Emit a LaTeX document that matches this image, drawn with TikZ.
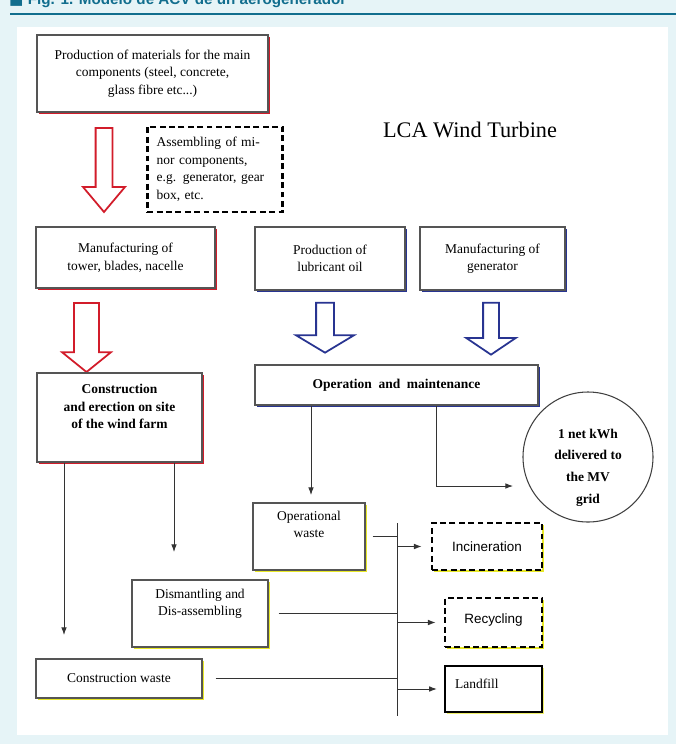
\documentclass[tikz,border=0pt]{standalone}
\usepackage{fontspec}
\setmainfont{Liberation Serif}
\newfontfamily\sansbox{Liberation Sans}
\newfontfamily\symbfont{DejaVu Sans}
\usetikzlibrary{shapes.arrows,shadows,arrows.meta}
\definecolor{pagebg}{RGB}{230,244,247}
\definecolor{headteal}{RGB}{18,110,142}
\definecolor{shadred}{RGB}{210,28,42}
\definecolor{shadblue}{RGB}{40,52,145}
\definecolor{shadyellow}{RGB}{232,232,40}
\definecolor{boxline}{RGB}{85,85,85}
\newcommand{\boxtext}{\fontsize{11.5}{15}\selectfont}
\newcommand{\boldtext}{\fontsize{11.5}{15}\selectfont\bfseries}
\newcommand{\circtext}{\fontsize{11.5}{18.5}\selectfont\bfseries}
\newcommand{\sanstext}{\fontsize{11.5}{14}\selectfont\sansbox}
\tikzset{
	plainbox/.style={draw=boxline, line width=0.9pt, fill=white, align=center, font=\boxtext, inner sep=2pt},
	redbox/.style={plainbox, drop shadow={shadow xshift=1.7pt, shadow yshift=-1.7pt, fill=shadred, opacity=1}},
	bluebox/.style={plainbox, drop shadow={shadow xshift=1.7pt, shadow yshift=-1.7pt, fill=shadblue, opacity=1}},
	yellowbox/.style={plainbox, drop shadow={shadow xshift=1.7pt, shadow yshift=-1.7pt, fill=shadyellow, opacity=1}},
	dashbox/.style={draw=black, line width=2.3pt, dash pattern=on 5pt off 3pt, fill=white, font=\sanstext},
	hollow/.style={single arrow, fill=white, line width=1.5pt, rotate=-90, inner xsep=0pt, minimum width=0pt},
	wire/.style={draw=black!80, line width=0.8pt},
	arr/.style={wire, -{Latex[length=2.3mm,width=1.7mm]}}
}

\begin{document}
\begin{tikzpicture}[x=0.03cm, y=-0.03cm]

	\useasboundingbox (0,0) rectangle (676,744);
	\clip (0,0) rectangle (676,744);
	\fill[pagebg] (0,0) rectangle (676,744);
	\node[anchor=base west, inner sep=0pt, text=headteal, font=\fontsize{13}{15}\selectfont\sansbox\bfseries] (figtitle) at (9,4) {{\symbfont ■} Fig. 1. Modelo de ACV de un aerogenerador};
	\draw[headteal, line width=2pt] (10,14) -- (676,14);
	\fill[white] (17,27) rectangle (668,735);

	\node[redbox, minimum width=6.93cm, minimum height=2.31cm] (prod) at (152.5,73.5) {Production of materials for the main\\components (steel, concrete,\\glass fibre etc...)};
	\node[dashbox, font=\boxtext, align=left, text width=3.5cm, inner xsep=0.28cm, minimum height=2.55cm] (asm) at (215,169.5) {Assembling of mi-\\nor components,\\e.g. generator, gear\\box, etc.};
	\node[font=\fontsize{19}{23}\selectfont] (lca) at (470,130) {LCA Wind Turbine};

	\node[redbox, minimum width=5.37cm, minimum height=1.83cm] (manu) at (125.5,257.5) {Manufacturing of\\tower, blades, nacelle};
	\node[bluebox, minimum width=4.5cm, minimum height=1.89cm] (lube) at (330,258.5) {Production of\\lubricant oil};
	\node[bluebox, minimum width=4.35cm, minimum height=1.89cm] (gen) at (492.5,258.5) {Manufacturing of\\generator};

	\node[hollow, draw=shadred, minimum height=2.52cm, inner ysep=0.225cm, single arrow head extend=0.375cm, single arrow tip angle=80] (redarrowa) at (104,165) {};
	\node[hollow, draw=shadred, minimum height=2.07cm, inner ysep=0.345cm, single arrow head extend=0.36cm, single arrow tip angle=102] (redarrowb) at (86.5,332.5) {};
	\node[hollow, draw=shadblue, minimum height=1.5cm, inner ysep=0.24cm, single arrow head extend=0.6cm, single arrow tip angle=118] (bluearrowa) at (325,325) {};
	\node[hollow, draw=shadblue, minimum height=1.56cm, inner ysep=0.21cm, single arrow head extend=0.51cm, single arrow tip angle=112] (bluearrowb) at (491,326) {};

	\node[redbox, font=\boldtext, minimum width=4.95cm, minimum height=2.67cm] (constr) at (119.5,417.5) {Construction\\and erection on site\\of the wind farm\\[4pt]};
	\node[bluebox, font=\boldtext, minimum width=8.49cm, minimum height=1.2cm] (oper) at (396.5,385) {Operation \ and \ maintenance};
	\node[circle, draw=black!75, line width=0.9pt, fill=white, minimum size=3.9cm] (kwh) at (588,457) {};
	\node[align=center, font=\circtext] (kwhtext) at ([yshift=-9pt]kwh.center) {1 net kWh\\delivered to\\the MV\\grid};

	\node[yellowbox, minimum width=3.36cm, minimum height=2.01cm] (opw) at (309,536.5) {Operational\\waste\\[6pt]};
	\node[dashbox, minimum width=3.3cm, minimum height=1.41cm, drop shadow={shadow xshift=1.7pt, shadow yshift=-1.7pt, fill=shadyellow, opacity=1}] (inc) at (487,546.5) {Incineration};
	\node[yellowbox, minimum width=4.08cm, minimum height=2.01cm] (dis) at (200,613.5) {Dismantling and\\Dis-assembling\\[4pt]};
	\node[dashbox, minimum width=2.91cm, minimum height=1.47cm, text depth=0.25cm, drop shadow={shadow xshift=1.7pt, shadow yshift=-1.7pt, fill=shadyellow, opacity=1}] (rec) at (493.5,622.5) {Recycling};
	\node[yellowbox, minimum width=4.98cm, minimum height=1.17cm] (cw) at (119,678.5) {Construction waste};
	\node[plainbox, draw=black, line width=2pt, minimum width=2.91cm, minimum height=1.38cm, text width=2.3cm, align=left, text depth=0.3cm, drop shadow={shadow xshift=1.5pt, shadow yshift=-1.5pt, fill=shadyellow!70, opacity=1}] (land) at (493.5,689) {Landfill};

	\coordinate (cwin) at (64,635);
	\coordinate (disin) at (174,552);
	\coordinate (opwin) at (311,495);
	\coordinate (kwhturn) at (436,486);
	\coordinate (kwhin) at (513,486);
	\coordinate (bustop) at (397,523);
	\coordinate (busbot) at (397,716);

	\draw[arr] (constr.south -| cwin) -- (cwin);
	\draw[arr] (constr.south -| disin) -- (disin);
	\draw[arr] (oper.south -| opwin) -- (opwin);
	\draw[arr] (oper.south -| kwhturn) -- (kwhturn) -- (kwhin);
	\draw[wire] (bustop) -- (busbot);
	\draw[wire, shorten <=0.21cm] (opw.east) -- (opw.east -| bustop);
	\draw[wire, shorten <=0.3cm] (dis.east) -- (dis.east -| bustop);
	\draw[wire, shorten <=0.39cm] (cw.east) -- (cw.east -| bustop);
	\draw[arr, shorten >=0.27cm] (inc.west -| bustop) -- (inc.west);
	\draw[arr, shorten >=0.24cm] (rec.west -| bustop) -- (rec.west);
	\draw[arr, shorten >=0.21cm] (land.west -| bustop) -- (land.west);

\end{tikzpicture}
\end{document}
